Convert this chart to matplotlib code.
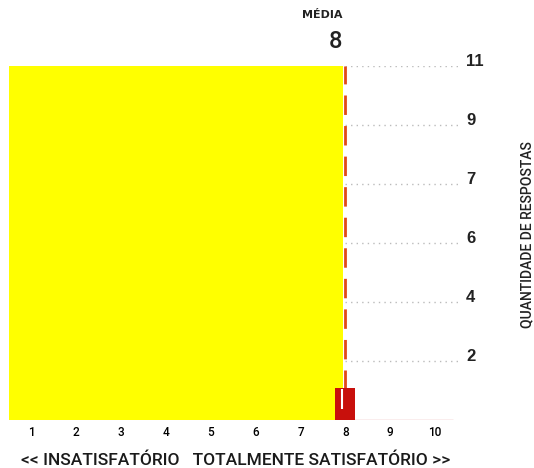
import matplotlib.pyplot as plt
import matplotlib.transforms as mtransforms
import numpy as np

plt.rcParams['font.family'] = ['Liberation Sans', 'DejaVu Sans']

# notas 1..10 e quantidade de respostas
notas = [1, 2, 3, 4, 5, 6, 7, 8, 9, 10]
respostas = [0, 0, 0, 0, 0, 0, 0, 1, 0, 0]
media = 8
y_max = 11
y_ticks = list(np.linspace(0, y_max, 7)[1:])
y_labels = ["2", "4", "6", "7", "9", "11"]

fig = plt.figure(figsize=(5.34, 4.68), dpi=100)
ax = fig.add_axes([0.016, 0.1026, 0.841, 0.756])

# area amarela ate a media
ax.axvspan(0.5, media - 0.05, color='#ffff00', zorder=1, lw=0)

# grade pontilhada a direita
ax.hlines(y_ticks, media, 10.5, colors='#bbbbbb', linestyles=(0, (1, 3)), lw=1, zorder=0)
ax.hlines(0, media, 10.4, colors='#e8a8a8', lw=1, zorder=0)

# linha da media
ax.axvline(media, color='#e04a18', lw=2, ls=(0, (7, 4)), zorder=2)

# barras
ax.bar(notas, respostas, width=0.45, color='#c8100c', zorder=3)
ax.vlines(media - 0.07, 0.35, 0.95, colors='white', lw=1.5, zorder=4)

ax.set_xlim(0.5, 10.5)
ax.set_ylim(0, y_max)
for s in ax.spines.values():
    s.set_visible(False)

ax.set_xticks(notas)
ax.set_xticklabels([str(n) for n in notas], fontsize=8.5, family=['Roboto'], fontweight='medium')
ax.tick_params(axis='x', length=0, pad=4)

ax.yaxis.tick_right()
ax.set_yticks(y_ticks)
ax.set_yticklabels(y_labels, fontsize=12, fontweight='bold', color='#222222')
ax.tick_params(axis='y', length=0, pad=6)
off = mtransforms.ScaledTranslation(0, 6 / 100, fig.dpi_scale_trans)
for lbl in ax.get_yticklabels():
    lbl.set_transform(lbl.get_transform() + off)

ax.text(0.505, -0.115, "<< INSATISFATÓRIO   TOTALMENTE SATISFATÓRIO >>",
        transform=ax.transAxes, ha='center', va='center', fontsize=12.5,
        family=['Roboto'], fontweight='medium', color='#1a1a1a')

ax.text(media - 0.06, y_max + 1.6, "MÉDIA", ha='right', va='center', fontsize=8,
        family=['DejaVu Sans'], fontweight='bold', color='#222222')
ax.text(media - 0.06, y_max + 0.78, str(media), ha='right', va='center', fontsize=17,
        family=['Roboto'], fontweight='medium', color='#222222')

fig.text(0.988, 0.498, "QUANTIDADE DE RESPOSTAS", rotation=90, ha='center', va='center',
         fontsize=10, family=['Roboto'], fontweight='medium', color='#222222')

fig.savefig('out.png', dpi=100)
